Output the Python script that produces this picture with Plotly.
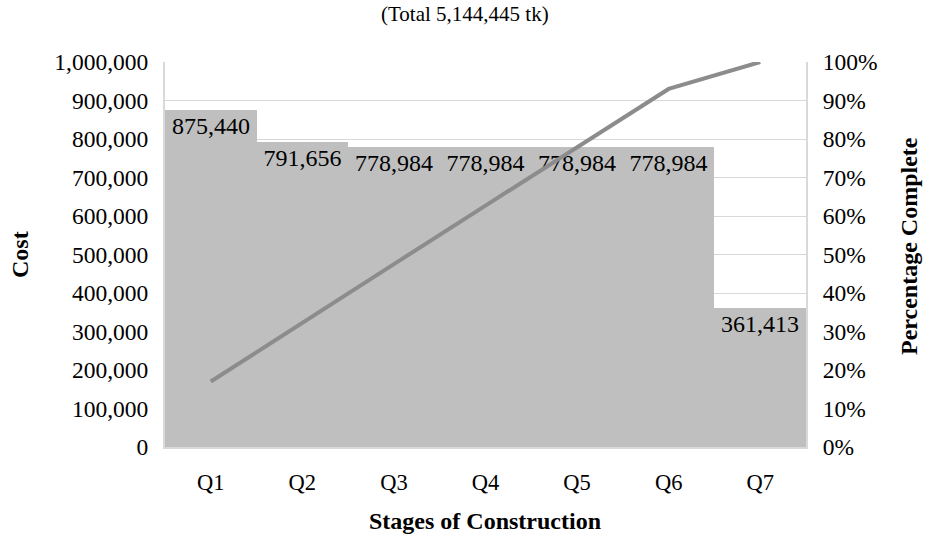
import plotly.graph_objects as go

# Quarterly construction costs (tk) and cumulative completion (%)
stages = ["Q1", "Q2", "Q3", "Q4", "Q5", "Q6", "Q7"]
costs = [875440, 791656, 778984, 778984, 778984, 778984, 361413]
pct_complete = [17.0, 32.4, 47.5, 62.7, 77.8, 93.0, 100.0]
cost_ticks = list(range(0, 1000001, 100000))
pct_ticks = list(range(0, 101, 10))

FONT = "Liberation Serif, Times New Roman, serif"
GRID = "#d9d9d9"

W, H = 925, 537
ML, MR, MT, MB = 165, 119, 62, 90

fig = go.Figure()

fig.add_trace(go.Bar(
    x=stages,
    y=costs,
    marker=dict(color="#bfbfbf", line=dict(width=0)),
    text=[f"{v:,}" for v in costs],
    textposition="inside",
    insidetextanchor="end",
    textangle=0,
    textfont=dict(family=FONT, size=24, color="black"),
    constraintext="none",
    cliponaxis=False,
    showlegend=False,
    hoverinfo="skip",
))

fig.add_trace(go.Scatter(
    x=stages,
    y=pct_complete,
    yaxis="y2",
    mode="lines",
    line=dict(color="#8c8c8c", width=4),
    showlegend=False,
    hoverinfo="skip",
))


def pixel_label(text, px, py, size, angle=0):
    """Annotation positioned by page pixel coordinates."""
    return dict(
        text=text,
        xref="paper", yref="paper",
        x=(px - ML) / (W - ML - MR),
        y=(H - MB - py) / (H - MT - MB),
        xanchor="center", yanchor="middle",
        showarrow=False, textangle=angle,
        font=dict(family=FONT, size=size, color="black"),
    )


fig.update_layout(
    width=W,
    height=H,
    margin=dict(l=ML, r=MR, t=MT, b=MB),
    paper_bgcolor="white",
    plot_bgcolor="white",
    bargap=0,
    font=dict(family=FONT, size=22, color="black"),
    xaxis=dict(
        showgrid=False,
        showline=True,
        linecolor=GRID,
        linewidth=2,
        ticks="",
        ticklabelstandoff=14,
        tickfont=dict(size=22.5),
    ),
    yaxis=dict(
        range=[0, 1000000],
        tickvals=cost_ticks,
        ticktext=[f"{v:,}" for v in cost_ticks],
        showgrid=True,
        gridcolor=GRID,
        gridwidth=1,
        showline=True,
        linecolor=GRID,
        linewidth=2,
        zeroline=False,
        ticks="",
        ticklabelstandoff=10,
        tickfont=dict(size=23.5),
    ),
    yaxis2=dict(
        overlaying="y",
        side="right",
        range=[0, 100],
        tickvals=pct_ticks,
        ticktext=[f"{v}%" for v in pct_ticks],
        showgrid=False,
        showline=True,
        linecolor=GRID,
        linewidth=2,
        zeroline=False,
        ticks="",
        ticklabelstandoff=10,
        tickfont=dict(size=23.5),
    ),
    annotations=[
        pixel_label("(Total 5,144,445 tk)", 465, 14, 21),
        pixel_label("<b>Cost</b>", 20, 255, 24, -90),
        pixel_label("<b>Percentage Complete</b>", 909, 246, 24, -90),
        pixel_label("<b>Stages of Construction</b>", 485, 521, 24),
    ],
)

fig.write_html("out.html")
